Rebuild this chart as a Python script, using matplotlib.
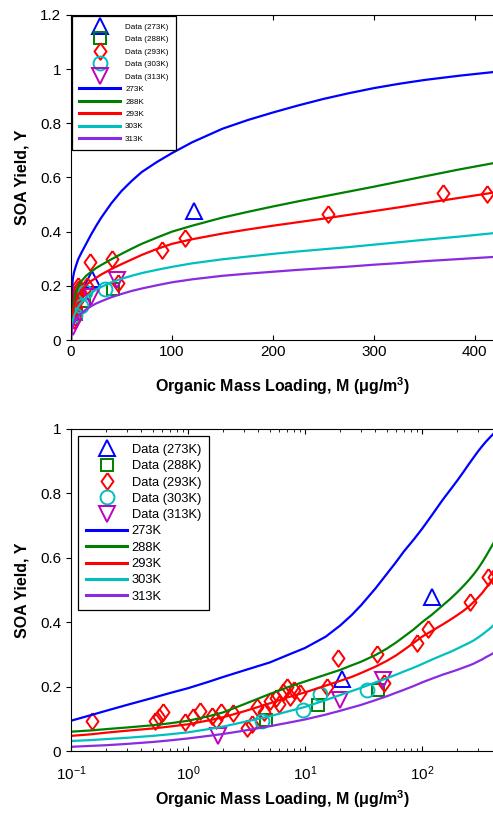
import numpy as np
import matplotlib
matplotlib.use('Agg')
import matplotlib.pyplot as plt
from matplotlib.ticker import FormatStrFormatter, MultipleLocator, LogLocator

plt.rcParams['font.family'] = ['Liberation Sans', 'DejaVu Sans']
plt.rcParams['mathtext.fontset'] = 'custom'
plt.rcParams['mathtext.rm'] = 'Liberation Sans'
plt.rcParams['mathtext.bf'] = 'Liberation Sans:bold'
plt.rcParams['mathtext.it'] = 'Liberation Sans:italic'

# model curves (M in ug/m3)
m_fit = [0, 0.1, 0.15, 0.2, 0.3, 0.5, 0.7, 1, 1.5, 2, 3, 5, 7, 10, 15, 20, 25, 30, 40, 50,
         60, 70, 85, 100, 120, 150, 175, 200, 225, 250, 275, 300, 325, 350, 385, 420]
y_273 = [0, 0.094, 0.112, 0.125, 0.143, 0.165, 0.18, 0.195, 0.215, 0.23, 0.25, 0.275, 0.297, 0.32, 0.355, 0.39,
         0.422, 0.452, 0.505, 0.55, 0.587, 0.62, 0.657, 0.69, 0.73, 0.78, 0.812, 0.84, 0.866, 0.89, 0.911,
         0.93, 0.946, 0.96, 0.976, 0.99]
y_288 = [0, 0.060, 0.064, 0.068, 0.073, 0.080, 0.086, 0.094, 0.108, 0.12, 0.145, 0.177, 0.197, 0.216, 0.237, 0.252,
         0.266, 0.277, 0.298, 0.318, 0.337, 0.355, 0.378, 0.40, 0.422, 0.452, 0.473, 0.493, 0.512, 0.53, 0.548,
         0.566, 0.585, 0.604, 0.63, 0.654]
y_293 = [0, 0.047, 0.052, 0.057, 0.063, 0.070, 0.076, 0.083, 0.095, 0.105, 0.123, 0.148, 0.166, 0.182, 0.203, 0.218,
         0.23, 0.242, 0.262, 0.28, 0.297, 0.314, 0.336, 0.355, 0.372, 0.393, 0.408, 0.422, 0.435, 0.448, 0.462,
         0.476, 0.49, 0.505, 0.525, 0.545]
y_303 = [0, 0.031, 0.034, 0.037, 0.041, 0.047, 0.052, 0.058, 0.068, 0.076, 0.09, 0.108, 0.122, 0.137, 0.158, 0.174,
         0.186, 0.196, 0.213, 0.226, 0.237, 0.247, 0.259, 0.27, 0.283, 0.298, 0.308, 0.318, 0.327, 0.335, 0.343,
         0.352, 0.361, 0.37, 0.382, 0.395]
y_313 = [0, 0.013, 0.016, 0.018, 0.022, 0.028, 0.033, 0.039, 0.047, 0.053, 0.063, 0.077, 0.087, 0.098, 0.113, 0.125,
         0.135, 0.143, 0.158, 0.17, 0.181, 0.19, 0.202, 0.213, 0.224, 0.237, 0.245, 0.252, 0.259, 0.265, 0.271,
         0.278, 0.284, 0.291, 0.299, 0.307]

# measured data
m_273 = [20.5, 122]
d_273 = [0.225, 0.478]
m_288 = [4.6, 13, 42]
d_288 = [0.095, 0.143, 0.188]
m_293 = [0.15, 0.52, 0.57, 0.61, 0.95, 1.1, 1.27, 1.6, 1.75, 1.9, 2.4, 3.2, 3.5, 3.9, 4.5,
         5.0, 5.7, 6.0, 6.5, 7.0, 7.4, 8.0, 9.1, 15.5, 19.2, 41, 47, 90, 113, 255, 368, 412]
d_293 = [0.093, 0.093, 0.107, 0.122, 0.09, 0.107, 0.125, 0.11, 0.097, 0.12, 0.118, 0.072, 0.085, 0.138, 0.12,
         0.155, 0.164, 0.145, 0.184, 0.2, 0.169, 0.19, 0.179, 0.2, 0.289, 0.3, 0.21, 0.334, 0.378, 0.464, 0.541, 0.54]
m_303 = [4.3, 9.7, 13.5, 33.6]
d_303 = [0.094, 0.127, 0.178, 0.19]
m_313 = [1.8, 20, 46]
d_313 = [0.047, 0.158, 0.222]

temps = ['273K', '288K', '293K', '303K', '313K']
line_cols = ['#0000ff', '#008000', '#ff0000', '#00bfbf', '#8a2be2']
mark_cols = ['#0000ff', '#008000', '#ff0000', '#00bfbf', '#bf00bf']
diamond = [(0, 1), (0.72, 0), (0, -1), (-0.72, 0), (0, 1)]
markers = ['^', 's', diamond, 'o', 'v']
msizes = [11, 9, 12, 10, 11]

data_m = [m_273, m_288, m_293, m_303, m_313]
data_y = [d_273, d_288, d_293, d_303, d_313]
fit_y = [y_273, y_288, y_293, y_303, y_313]

xlabel = r'Organic Mass Loading, M ($\mathbf{\mu}$g/m$^{\mathbf{3}}$)'


def draw(ax, logx):
    for i, t in enumerate(temps):
        ax.plot(data_m[i], data_y[i], linestyle='none', marker=markers[i], ms=msizes[i],
                mfc='none', mec=mark_cols[i], mew=1.4, label='Data (%s)' % t)
    for i, t in enumerate(temps):
        xs, ys = (m_fit[1:], fit_y[i][1:]) if logx else (m_fit, fit_y[i])
        ax.plot(xs, ys, color=line_cols[i], lw=1.6, label=t)
    ax.set_ylabel('SOA Yield, Y', fontsize=11.5, fontweight='bold', labelpad=8)
    ax.yaxis.set_major_formatter(FormatStrFormatter('%g'))
    ax.tick_params(axis='x', which='both', direction='in', top=True, labelsize=11)
    ax.tick_params(axis='y', which='both', direction='out', labelsize=11)
    ax.spines['right'].set_visible(False)


fig = plt.figure(figsize=(4.93, 8.13), dpi=100)

ax1 = fig.add_axes([71/493, (813-340)/813, 424/493, 325/813])
draw(ax1, False)
ax1.set_xlabel(xlabel, fontsize=11.5, fontweight='bold', labelpad=12)
ax1.set_xlim(0, 420)
ax1.set_ylim(0, 1.2)
ax1.xaxis.set_major_locator(MultipleLocator(100))
ax1.yaxis.set_major_locator(MultipleLocator(0.2))
leg1 = ax1.legend(loc='upper left', fontsize=5.8, handlelength=5.1, handletextpad=0.62,
                  labelspacing=0.6, borderaxespad=0.1, fancybox=False, edgecolor='k',
                  framealpha=1, borderpad=0.9)
leg1.get_frame().set_linewidth(0.9)
for h in leg1.get_lines():
    h.set_linewidth(2.2)

ax2 = fig.add_axes([71/493, (813-751)/813, 424/493, 322/813])
draw(ax2, True)
ax2.set_xlabel(xlabel, fontsize=11.5, fontweight='bold', labelpad=4)
ax2.set_xscale('log')
ax2.set_xlim(0.1, 420)
ax2.set_ylim(0, 1)
ax2.yaxis.set_major_locator(MultipleLocator(0.2))
ax2.xaxis.set_major_locator(LogLocator(base=10, numticks=10))
ax2.tick_params(axis='x', which='major', pad=9.5)
leg2 = ax2.legend(loc='upper left', fontsize=9.3, handlelength=3.2, handletextpad=0.35,
                  labelspacing=0.33, borderaxespad=0.55, fancybox=False, edgecolor='k',
                  framealpha=1, borderpad=0.6)
leg2.get_frame().set_linewidth(0.9)
for h in leg2.get_lines():
    h.set_linewidth(2.2)

fig.savefig('out.png', dpi=100)
